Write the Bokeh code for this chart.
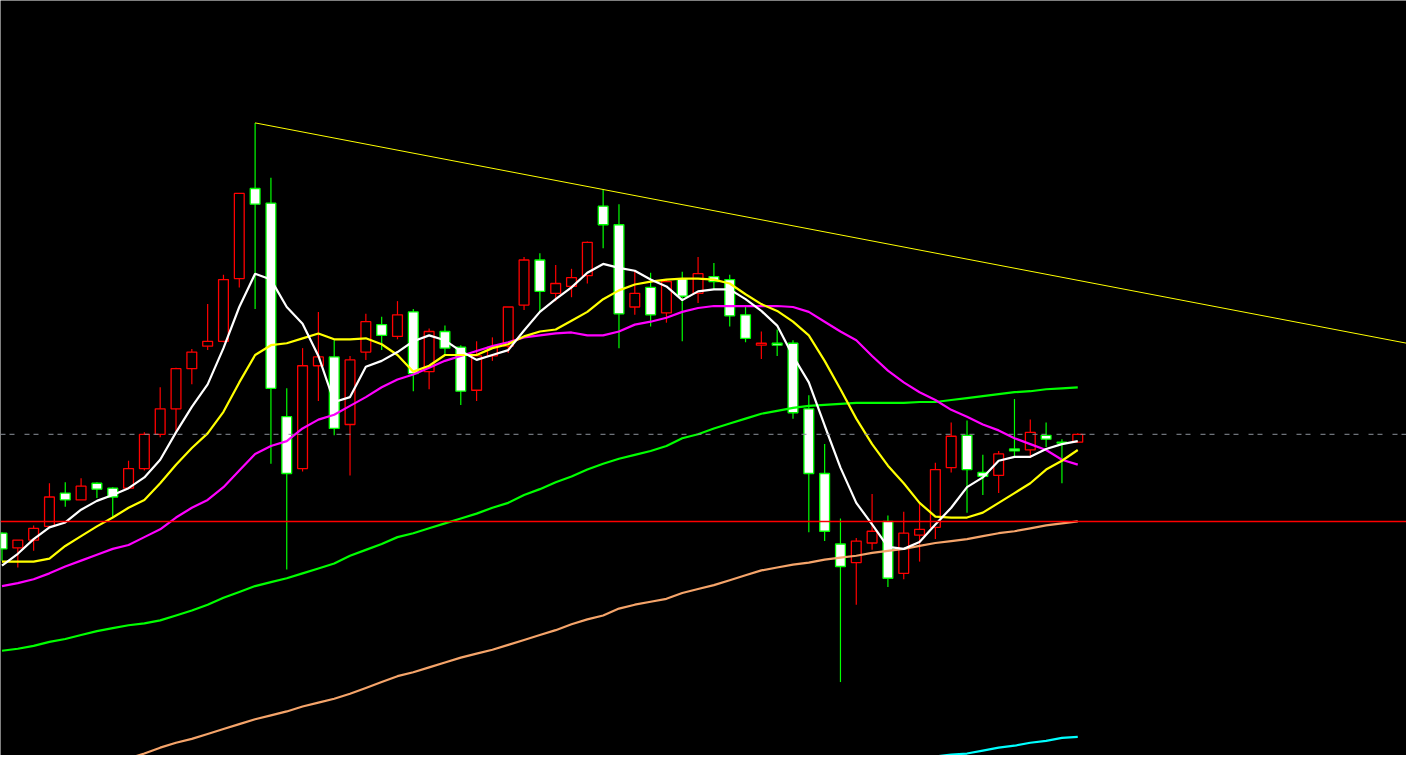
import numpy as np
from bokeh.plotting import figure
from bokeh.models import Range1d, Span, ColumnDataSource
from bokeh.embed import file_html
from bokeh.resources import INLINE

# ---- daily candles (price) ----
open_ = [12.27, 12.12, 12.20, 12.34, 12.68, 12.61, 12.78, 12.73, 12.73, 12.93,
         13.28, 13.54, 13.95, 14.18, 14.23, 14.87, 15.79, 15.64, 13.46, 12.93,
         13.98, 14.07, 13.38, 14.12, 14.40, 14.28, 14.53, 13.92, 14.33, 14.17,
         13.73, 14.08, 14.18, 14.60, 15.06, 14.72, 14.79, 14.90, 15.61, 15.42,
         14.58, 14.78, 14.52, 14.87, 14.72, 14.89, 14.86, 14.50, 14.19, 14.21,
         14.21, 13.54, 12.88, 12.16, 11.97, 12.17, 12.39, 11.86, 12.25, 12.33,
         12.94, 13.27, 12.89, 12.86, 13.13, 13.12, 13.27, 13.20, 13.20]
high = [12.28, 12.20, 12.35, 12.78, 12.79, 12.83, 12.79, 12.74, 13.01, 13.30,
        13.76, 13.96, 14.15, 14.61, 14.91, 15.74, 16.46, 15.90, 13.75, 14.16,
        14.53, 14.24, 14.08, 14.51, 14.48, 14.64, 14.56, 14.36, 14.39, 14.19,
        14.23, 14.27, 14.58, 15.09, 15.13, 15.01, 14.97, 15.25, 15.78, 15.63,
        14.95, 14.93, 14.86, 14.94, 15.09, 15.03, 14.91, 14.59, 14.33, 14.35,
        14.24, 13.68, 13.18, 12.42, 12.22, 12.67, 12.45, 12.49, 12.58, 12.99,
        13.40, 13.42, 13.07, 13.11, 13.64, 13.43, 13.40, 13.23, 13.29]
low = [11.99, 11.92, 12.09, 12.33, 12.54, 12.61, 12.63, 12.43, 12.73, 12.91,
       13.25, 13.31, 13.79, 14.14, 14.22, 14.78, 14.56, 12.98, 11.90, 12.90,
       13.62, 13.27, 12.86, 14.04, 14.14, 14.25, 13.72, 13.74, 14.08, 13.58,
       13.62, 14.03, 14.11, 14.55, 14.53, 14.64, 14.68, 14.82, 15.18, 14.16,
       14.50, 14.38, 14.42, 14.23, 14.62, 14.76, 14.38, 14.22, 14.05, 14.08,
       13.44, 12.28, 12.19, 10.75, 11.54, 12.10, 11.72, 11.80, 11.98, 12.21,
       12.89, 12.48, 12.66, 12.68, 13.04, 13.04, 13.15, 12.78, 13.20]
close = [12.11, 12.20, 12.32, 12.64, 12.61, 12.75, 12.72, 12.64, 12.93, 13.28,
         13.54, 13.95, 14.12, 14.23, 14.86, 15.74, 15.63, 13.75, 12.88, 13.98,
         14.07, 13.34, 14.04, 14.43, 14.29, 14.50, 13.90, 14.33, 14.16, 13.72,
         14.08, 14.17, 14.58, 15.06, 14.74, 14.82, 14.88, 15.24, 15.42, 14.51,
         14.72, 14.50, 14.84, 14.69, 14.92, 14.84, 14.49, 14.26, 14.21, 14.19,
         13.50, 12.88, 12.29, 11.93, 12.19, 12.29, 11.81, 12.27, 12.31, 12.92,
         13.26, 12.92, 12.85, 13.08, 13.11, 13.30, 13.23, 13.19, 13.28]

# ---- moving averages ----
ma5 = [11.94, 12.06, 12.21, 12.33, 12.38, 12.51, 12.60, 12.66, 12.73, 12.84,
       13.02, 13.30, 13.56, 13.79, 14.16, 14.58, 14.92, 14.86, 14.58, 14.41,
       14.08, 13.61, 13.66, 13.97, 14.03, 14.12, 14.23, 14.29, 14.24, 14.13,
       14.04, 14.09, 14.14, 14.34, 14.53, 14.66, 14.78, 14.93, 15.02, 14.98,
       14.95, 14.86, 14.79, 14.65, 14.74, 14.76, 14.76, 14.66, 14.54, 14.39,
       14.08, 13.81, 13.37, 12.94, 12.58, 12.36, 12.13, 12.11, 12.18, 12.36,
       12.53, 12.74, 12.84, 13.01, 13.05, 13.05, 13.13, 13.18, 13.21]
ma10 = [11.98, 11.98, 11.98, 12.01, 12.14, 12.24, 12.34, 12.43, 12.53, 12.61,
        12.78, 12.97, 13.14, 13.29, 13.51, 13.81, 14.09, 14.19, 14.21, 14.26,
        14.31, 14.25, 14.25, 14.26, 14.20, 14.09, 13.92, 13.98, 14.09, 14.09,
        14.09, 14.16, 14.20, 14.28, 14.33, 14.35, 14.44, 14.53, 14.66, 14.75,
        14.81, 14.84, 14.86, 14.87, 14.87, 14.86, 14.82, 14.71, 14.61, 14.54,
        14.43, 14.29, 14.03, 13.74, 13.44, 13.18, 12.96, 12.78, 12.58, 12.44,
        12.43, 12.43, 12.48, 12.58, 12.68, 12.78, 12.92, 13.01, 13.12]
ma20 = [11.73, 11.76, 11.80, 11.86, 11.93, 11.99, 12.05, 12.11, 12.15, 12.23,
        12.31, 12.43, 12.53, 12.61, 12.74, 12.91, 13.08, 13.16, 13.21, 13.34,
        13.43, 13.48, 13.57, 13.66, 13.76, 13.84, 13.89, 13.96, 14.03, 14.08,
        14.13, 14.18, 14.22, 14.27, 14.29, 14.31, 14.32, 14.29, 14.29, 14.33,
        14.40, 14.43, 14.47, 14.53, 14.57, 14.59, 14.59, 14.59, 14.59, 14.59,
        14.58, 14.53, 14.43, 14.33, 14.24, 14.08, 13.93, 13.81, 13.71, 13.63,
        13.53, 13.46, 13.38, 13.32, 13.24, 13.18, 13.12, 13.02, 12.97]
ma60 = [11.07, 11.09, 11.12, 11.16, 11.19, 11.23, 11.27, 11.30, 11.33, 11.35,
        11.38, 11.43, 11.48, 11.54, 11.61, 11.67, 11.73, 11.77, 11.81, 11.86,
        11.91, 11.96, 12.04, 12.10, 12.16, 12.23, 12.27, 12.32, 12.37, 12.42,
        12.47, 12.53, 12.58, 12.66, 12.72, 12.79, 12.85, 12.92, 12.98, 13.03,
        13.07, 13.11, 13.16, 13.24, 13.28, 13.34, 13.39, 13.44, 13.49, 13.52,
        13.55, 13.57, 13.58, 13.59, 13.60, 13.60, 13.60, 13.60, 13.61, 13.61,
        13.63, 13.65, 13.67, 13.69, 13.71, 13.72, 13.74, 13.75, 13.76]
ma120 = [9.63, 9.67, 9.71, 9.75, 9.80, 9.84, 9.88, 9.92, 9.97, 10.02,
         10.08, 10.13, 10.17, 10.22, 10.27, 10.32, 10.37, 10.41, 10.45, 10.50,
         10.54, 10.58, 10.63, 10.69, 10.75, 10.81, 10.85, 10.90, 10.95, 11.00,
         11.04, 11.08, 11.13, 11.18, 11.23, 11.28, 11.34, 11.39, 11.43, 11.50,
         11.54, 11.57, 11.60, 11.66, 11.70, 11.74, 11.79, 11.84, 11.89, 11.92,
         11.95, 11.97, 12.00, 12.02, 12.04, 12.07, 12.09, 12.11, 12.14, 12.17,
         12.19, 12.21, 12.24, 12.27, 12.29, 12.32, 12.35, 12.37, 12.39]
ma250 = [None] * 58 + [9.97, 9.99, 10.01, 10.02, 10.05, 10.08, 10.10, 10.13,
                       10.15, 10.18, 10.19]

support_level = 12.39
trend_from, trend_to = 16, 38  # candles whose highs define the resistance line

# ---- figure ----
y_lo, y_hi = 10.00, 17.71
x_lo, x_hi = -0.094, 88.78
p = figure(width=1406, height=755, x_range=Range1d(x_lo, x_hi),
           y_range=Range1d(y_lo, y_hi), x_axis_type=None, y_axis_type=None,
           output_backend="svg", toolbar_location=None,
           background_fill_color="black", border_fill_color="black",
           outline_line_color=None, min_border=0)
p.grid.visible = False

idx = np.arange(len(close))
o = np.array(open_); c = np.array(close)
h = np.array(high); l = np.array(low)
up = c >= o
top = np.maximum(o, c)
bot = np.minimum(o, c)
bot = np.where(top - bot < 0.01, top - 0.01, bot)

RED = "#ff0000"
GRN = "#00ff00"

up_src = ColumnDataSource(dict(x=idx[up], h=h[up], l=l[up], t=top[up], b=bot[up]))
dn_src = ColumnDataSource(dict(x=idx[~up], h=h[~up], l=l[~up], t=top[~up], b=bot[~up]))

p.segment("x", "h", "x", "l", source=up_src, line_color=RED, line_width=1.2)
p.segment("x", "h", "x", "l", source=dn_src, line_color=GRN, line_width=1.2)
p.vbar(x="x", top="t", bottom="b", width=0.62, source=up_src,
       fill_color="black", line_color=RED, line_width=1.3)
p.vbar(x="x", top="t", bottom="b", width=0.62, source=dn_src,
       fill_color="white", line_color=GRN, line_width=1.3)

def arr(v):
    return np.array([np.nan if a is None else a for a in v], dtype=float)

p.line(idx, arr(ma250), line_color="#00ffff", line_width=2.2)
p.line(idx, arr(ma120), line_color="#f5a46a", line_width=2.2)
p.line(idx, arr(ma60), line_color="#00ff00", line_width=2.2)
p.line(idx, arr(ma20), line_color="#ff00ff", line_width=2.2)
p.line(idx, arr(ma10), line_color="#ffff00", line_width=2.2)
p.line(idx, arr(ma5), line_color="#ffffff", line_width=2.2)

# resistance line through two highs, extended to the right edge
slope = (high[trend_to] - high[trend_from]) / (trend_to - trend_from)
tx = [trend_from, x_hi]
ty = [high[trend_from], high[trend_from] + slope * (x_hi - trend_from)]
p.line(tx, ty, line_color="#ffff00", line_width=1)

p.add_layout(Span(location=support_level, dimension="width",
                  line_color="#ff0000", line_width=1.5))
p.add_layout(Span(location=close[-1], dimension="width",
                  line_color="#8a9099", line_width=1, line_dash="5 4 5 10"))

open("out.html", "w").write(file_html(p, INLINE))
